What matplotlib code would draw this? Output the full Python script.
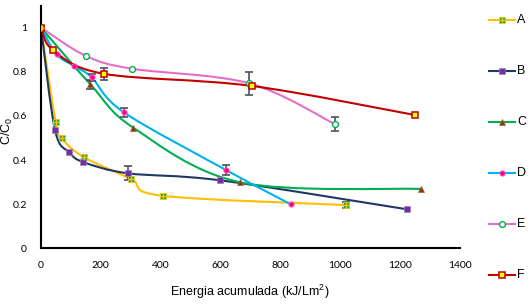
import numpy as np
import matplotlib
matplotlib.use("Agg")
import matplotlib.pyplot as plt
from matplotlib.path import Path
from matplotlib.patches import PathPatch
from matplotlib.lines import Line2D

# ---- data ----
series_names = ["A", "B", "C", "D", "E", "F"]
a_x = [0, 49, 69, 143, 301, 406, 1019]
a_y = [1.0, 0.572, 0.499, 0.413, 0.314, 0.238, 0.196]
a_err = [0, 0, 0, 0, 0, 0, 0.012]
b_x = [0, 47, 95, 141, 290, 599, 1222]
b_y = [1.0, 0.535, 0.435, 0.391, 0.340, 0.308, 0.177]
b_err = [0, 0, 0, 0, 0.032, 0, 0]
c_x = [0, 165, 308, 666, 1271]
c_y = [1.0, 0.743, 0.547, 0.299, 0.269]
c_err = [0, 0.02, 0, 0, 0]
d_x = [0, 52, 111, 169, 276, 618, 835]
d_y = [1.0, 0.879, 0.826, 0.775, 0.617, 0.355, 0.199]
d_err = [0, 0, 0, 0.015, 0.02, 0.024, 0]
e_x = [0, 150, 304, 695, 982]
e_y = [1.0, 0.872, 0.814, 0.748, 0.563]
e_err = [0, 0, 0, 0.051, 0.03]
f_x = [0, 41, 210, 704, 1250]
f_y = [1.0, 0.897, 0.791, 0.736, 0.604]
f_err = [0, 0, 0.028, 0, 0]

x_ticks = [0, 200, 400, 600, 800, 1000, 1200, 1400]
y_ticks = [0, 0.2, 0.4, 0.6, 0.8, 1.0]
y_tick_labels = ["0", "0.2", "0.4", "0.6", "0.8", "1"]

line_colors = ["#FFC000", "#1F3864", "#00B050", "#00B0F0", "#E46FC8", "#C00000"]

fig = plt.figure(figsize=(5.30, 3.04), dpi=100)
ax = fig.add_axes([41/530, 1 - 248.3/304, (460-41)/530, (248.3-5.6)/304])
ax.set_xlim(0, 1400)
ax.set_ylim(0, 1.1)


def smooth_path(xs, ys):
    P = np.column_stack([xs, ys]).astype(float)
    n = len(P)
    verts = [P[0]]
    codes = [Path.MOVETO]
    for i in range(n - 1):
        p0 = P[i - 1] if i > 0 else P[i]
        p1 = P[i]
        p2 = P[i + 1]
        p3 = P[i + 2] if i + 2 < n else P[i + 1]
        c1 = p1 + (p2 - p0) / 6.0
        c2 = p2 - (p3 - p1) / 6.0
        verts += [c1, c2, p2]
        codes += [Path.CURVE4] * 3
    return Path(verts, codes)


all_data = [(a_x, a_y, a_err), (b_x, b_y, b_err), (c_x, c_y, c_err),
            (d_x, d_y, d_err), (e_x, e_y, e_err), (f_x, f_y, f_err)]

lw = 1.5
for (xs, ys, errs), col in zip(all_data, line_colors):
    patch = PathPatch(smooth_path(xs, ys), facecolor="none", edgecolor=col,
                      lw=lw, zorder=2)
    ax.add_patch(patch)

# error bars
for (xs, ys, errs) in all_data:
    ex = [x for x, e in zip(xs, errs) if e > 0]
    ey = [y for y, e in zip(ys, errs) if e > 0]
    ee = [e for e in errs if e > 0]
    if ex:
        ax.errorbar(ex, ey, yerr=ee, fmt="none", ecolor="#4A5260",
                    elinewidth=1.2, capsize=3, capthick=1.2, zorder=3)

# markers
def draw_markers(idx, xs, ys):
    if idx == 0:
        ax.plot(xs, ys, ls="none", marker="s", ms=4.2, mfc="#00B050",
                mec="#FFC000", mew=0.6, zorder=4)
        ax.plot(xs, ys, ls="none", marker="+", ms=4.2, mec="#FFC000",
                mew=1.0, zorder=5)
    elif idx == 1:
        ax.plot(xs, ys, ls="none", marker="s", ms=4.5, mfc="#7030A0",
                mec="#A080C0", mew=0.5, zorder=4)
    elif idx == 2:
        ax.plot(xs, ys, ls="none", marker="^", ms=5, mfc="#843C0C",
                mec="#A06040", mew=0.5, zorder=4)
    elif idx == 3:
        ax.plot(xs, ys, ls="none", marker="o", ms=3.8, mfc="#FF0080",
                mec="#FF60C0", mew=0.7, zorder=4)
    elif idx == 4:
        ax.plot(xs, ys, ls="none", marker="o", ms=4.2, mfc="white",
                mec="#00B050", mew=1.0, zorder=4)
    elif idx == 5:
        ax.plot(xs, ys, ls="none", marker="s", ms=4.8, mfc="#FFFF00",
                mec="#C00000", mew=1.1, zorder=4)

for i, (xs, ys, errs) in enumerate(all_data):
    draw_markers(i, xs, ys)

# axes styling
for s in ["top", "right"]:
    ax.spines[s].set_visible(False)
for s in ["left", "bottom"]:
    ax.spines[s].set_linewidth(1.5)
    ax.spines[s].set_color("black")
ax.set_xticks(x_ticks)
ax.set_xticklabels([str(v) for v in x_ticks], fontfamily="Lato", fontsize=7.5)
ax.set_yticks(y_ticks)
ax.set_yticklabels(y_tick_labels, fontfamily="Lato", fontsize=7.5)
ax.tick_params(axis="both", length=0)
ax.tick_params(axis="x", pad=9)
ax.tick_params(axis="y", pad=10)

fig.text(250/530, 1 - 292/304, "Energia acumulada (kJ/Lm$^\\mathregular{2}$)",
         ha="center", va="center", fontfamily="Liberation Sans", fontsize=9)
fig.text(7/530, 1 - 131/304, "C/C$_\\mathregular{0}$", rotation=90,
         ha="center", va="center", fontfamily="Liberation Sans", fontsize=9)

# legend (manual)
leg_y = [20, 71, 122, 173, 224, 275]
mk_specs = [
    dict(marker="s", ms=4.2, mfc="#00B050", mec="#FFC000", mew=0.6),
    dict(marker="s", ms=4.5, mfc="#7030A0", mec="#A080C0", mew=0.5),
    dict(marker="^", ms=5, mfc="#843C0C", mec="#A06040", mew=0.5),
    dict(marker="o", ms=3.8, mfc="#FF0080", mec="#FF60C0", mew=0.7),
    dict(marker="o", ms=4.2, mfc="white", mec="#00B050", mew=1.0),
    dict(marker="s", ms=4.8, mfc="#FFFF00", mec="#C00000", mew=1.1),
]
for name, col, yy, spec in zip(series_names, line_colors, leg_y, mk_specs):
    yf = 1 - yy / 304
    fig.add_artist(Line2D([489/530, 515/530], [yf, yf], color=col, lw=lw,
                          transform=fig.transFigure))
    fig.add_artist(Line2D([502/530], [yf], ls="none", transform=fig.transFigure,
                          **spec))
    if name == "A":
        fig.add_artist(Line2D([502/530], [yf], ls="none", marker="+", ms=4.2,
                              mec="#FFC000", mew=1.0, transform=fig.transFigure))
    fig.text(517/530, yf, name, ha="left", va="center",
             fontfamily="Liberation Sans", fontsize=9)

fig.savefig("out.png", dpi=100)
